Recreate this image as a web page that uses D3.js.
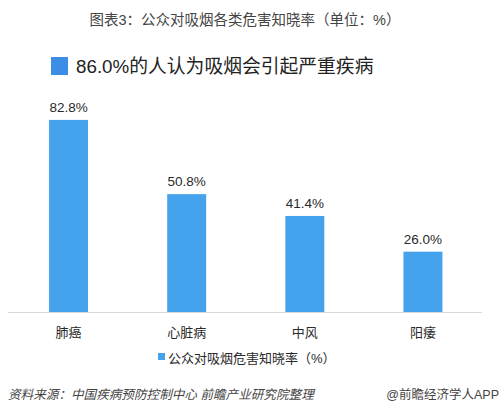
<!DOCTYPE html>
<html><head><meta charset="utf-8">
<script src="https://cdn.jsdelivr.net/npm/d3@7/dist/d3.min.js"></script>
<style>
body{margin:0;background:#fff;}
text{font-family:"Liberation Sans","Noto Sans CJK SC",sans-serif;}
</style></head>
<body><svg id="c" width="499" height="414"></svg>
<script>
const categories = ["肺癌","心脏病","中风","阳痿"];
const values = [82.8, 50.8, 41.4, 26.0];
const valueLabels = ["82.8%","50.8%","41.4%","26.0%"];
const title = "图表3：公众对吸烟各类危害知晓率（单位：%）";
const subtitle = "86.0%的人认为吸烟会引起严重疾病";
const seriesName = "公众对吸烟危害知晓率（%）";
const sourceText = "资料来源：中国疾病预防控制中心 前瞻产业研究院整理";
const credit = "@前瞻经济学人APP";

const svg = d3.select("#c");
const barColor = "#45a3ee";

svg.append("text").attr("x",245).attr("y",25).attr("text-anchor","middle")
  .attr("font-size",14.5).attr("fill","#444").text(title);

svg.append("rect").attr("x",51).attr("y",57).attr("width",17).attr("height",18).attr("fill","#3b8de6");
svg.append("text").attr("x",76).attr("y",73).attr("font-size",18.8).attr("fill","#222").text(subtitle);

const x = d3.scaleBand().domain(categories).range([9.5,482]).paddingInner(0.67).paddingOuter(0.335);
const y = d3.scaleLinear().domain([0,100]).range([312,80]);

svg.append("line").attr("x1",8).attr("x2",482).attr("y1",y(0)+0.5).attr("y2",y(0)+0.5)
  .attr("stroke","#d6d6d6").attr("stroke-width",1);

svg.selectAll("rect.bar").data(values).enter().append("rect").attr("class","bar")
  .attr("x",(d,i)=>x(categories[i])).attr("width",x.bandwidth())
  .attr("y",d=>y(d)).attr("height",d=>y(0)-y(d)).attr("fill",barColor);

svg.selectAll("text.val").data(values).enter().append("text").attr("class","val")
  .attr("x",(d,i)=>x(categories[i])+x.bandwidth()/2).attr("y",d=>y(d)-8)
  .attr("text-anchor","middle").attr("font-size",13.5).attr("fill","#2a2a2a")
  .text((d,i)=>valueLabels[i]);

const xAxis = svg.append("g").attr("transform",`translate(0,${y(0)})`)
  .call(d3.axisBottom(x).tickSize(0).tickPadding(16));
xAxis.select(".domain").remove();
xAxis.selectAll("text").attr("font-size",13).attr("fill","#2a2a2a")
  .style("font-family",'"Liberation Sans","Noto Sans CJK SC",sans-serif');

svg.append("rect").attr("x",158).attr("y",353).attr("width",7).attr("height",7).attr("fill",barColor);
svg.append("text").attr("x",168).attr("y",363).attr("font-size",13).attr("fill","#2a2a2a").text(seriesName);

svg.append("text").attr("x",8).attr("y",399).attr("font-size",12.6).attr("font-style","italic")
  .attr("fill","#444").text(sourceText);
svg.append("text").attr("x",499).attr("y",399).attr("text-anchor","end").attr("font-size",12.5)
  .attr("fill","#444").text(credit);
</script></body></html>
